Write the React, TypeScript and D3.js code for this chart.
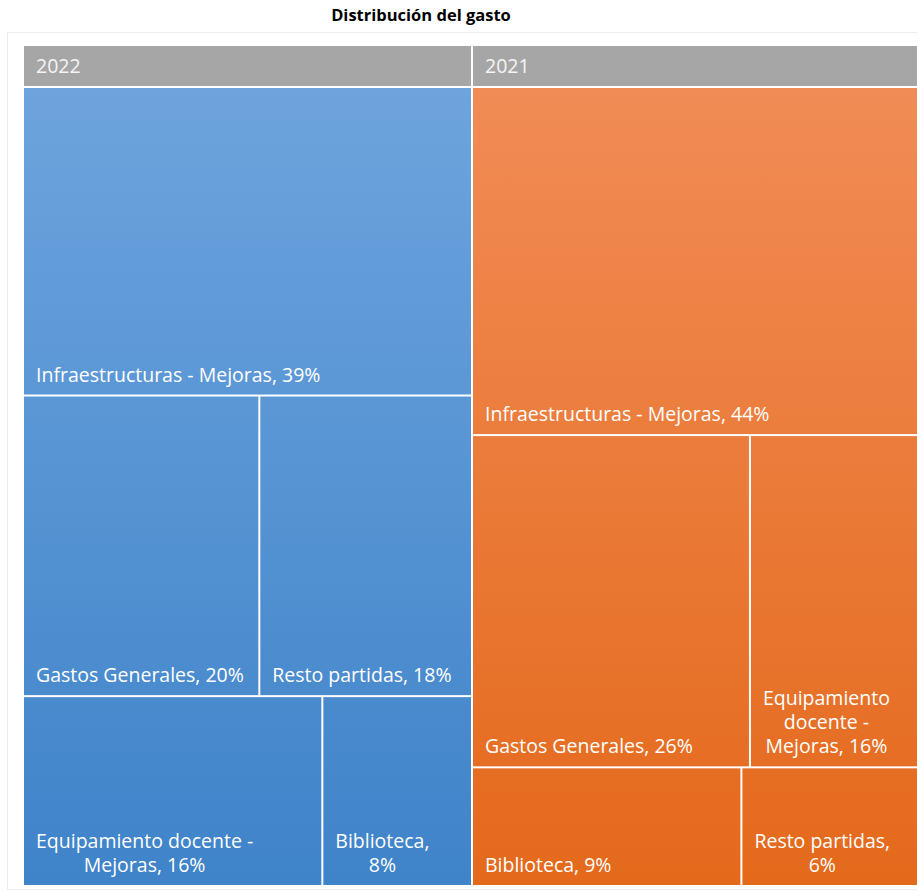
import React, { useMemo } from "react";
import * as d3 from "d3";

const title = "Distribución del gasto";
const years = ["2022", "2021"];

const categories2022 = ["Infraestructuras - Mejoras", "Gastos Generales", "Resto partidas", "Equipamiento docente - Mejoras", "Biblioteca"];
const values2022 = [39, 20, 18, 16, 8];
const labels2022 = [["Infraestructuras - Mejoras, 39%"], ["Gastos Generales, 20%"], ["Resto partidas, 18%"], ["Equipamiento docente -", "Mejoras, 16%"], ["Biblioteca,", "8%"]];

const categories2021 = ["Infraestructuras - Mejoras", "Gastos Generales", "Equipamiento docente - Mejoras", "Biblioteca", "Resto partidas"];
const values2021 = [44, 26, 16, 9, 6];
const labels2021 = [["Infraestructuras - Mejoras, 44%"], ["Gastos Generales, 26%"], ["Equipamiento", "docente -", "Mejoras, 16%"], ["Biblioteca, 9%"], ["Resto partidas,", "6%"]];

const W = 917;
const H = 892;
const FONT = "'Open Sans', 'Noto Sans', sans-serif";
const LABEL_SIZE = 19.5;

const gradients: Record<string, [string, string]> = {
  "2022": ["#6DA4DD", "#3F83C9"],
  "2021": ["#F18C56", "#E4691B"],
};

let canvasCtx: CanvasRenderingContext2D | null = null;
function measure(text: string, size: number) {
  if (!canvasCtx) {
    const c = document.createElement("canvas");
    canvasCtx = c.getContext("2d");
  }
  if (!canvasCtx) return text.length * size * 0.5;
  canvasCtx.font = `${size}px ${FONT}`;
  return canvasCtx.measureText(text).width;
}

export default function App() {
  const root = useMemo(() => {
    const data = {
      name: "root",
      children: [
        { name: years[0], children: categories2022.map((c, i) => ({ name: c, value: values2022[i], lines: labels2022[i] })) },
        { name: years[1], children: categories2021.map((c, i) => ({ name: c, value: values2021[i], lines: labels2021[i] })) },
      ],
    };
    const h = d3.hierarchy<any>(data).sum((d: any) => d.value || 0);
    const sq = d3.treemapSquarify.ratio(1);
    const tile = (node: any, x0: number, y0: number, x1: number, y1: number) => {
      if (node.depth === 0) d3.treemapDice(node, x0, y0, x1, y1);
      else sq(node, x0, y0, x1, y1);
    };
    d3.treemap<any>()
      .tile(tile as any)
      .size([920 - 24, 885 - 46])
      .paddingInner(2)
      .paddingTop((d: any) => (d.depth === 1 ? 42 : 0))(h);
    return h as d3.HierarchyRectangularNode<any>;
  }, []);

  const yearNodes = root.children || [];
  const ox = 24;
  const oy = 46;

  return (
    <svg width={W} height={H} style={{ position: "absolute", left: 0, top: 0, display: "block", background: "#fff" }}>
      <defs>
        {yearNodes.map((yn) => (
          <linearGradient key={yn.data.name} id={`grad-${yn.data.name}`} gradientUnits="userSpaceOnUse" x1={0} y1={yn.y0 + 42} x2={0} y2={yn.y1}>
            <stop offset="0%" stopColor={gradients[yn.data.name][0]} />
            <stop offset="100%" stopColor={gradients[yn.data.name][1]} />
          </linearGradient>
        ))}
      </defs>
      <rect x={7.5} y={32.5} width={W} height={857} fill="#fff" stroke="#ececec" strokeWidth={1} />
      <text x={421} y={21} textAnchor="middle" fontFamily={FONT} fontWeight={700} fontSize={16.5} fill="#000">
        {title}
      </text>
      <g transform={`translate(${ox},${oy})`}>
        {yearNodes.map((yn) => (
          <g key={yn.data.name}>
            <rect x={yn.x0} y={yn.y0} width={yn.x1 - yn.x0} height={40} fill="#A6A6A6" />
            <text x={yn.x0 + 12} y={yn.y0 + 27} fontFamily={FONT} fontSize={LABEL_SIZE} fill="#F5F5F5">
              {yn.data.name}
            </text>
          </g>
        ))}
        {root.leaves().map((leaf, i) => {
          const lines: string[] = leaf.data.lines;
          const maxW = Math.max(...lines.map((l) => measure(l, LABEL_SIZE)));
          const lh = 24;
          const lastY = leaf.y1 - 13;
          const yearName = leaf.parent ? leaf.parent.data.name : "";
          const multi = lines.length > 1;
          const cx = leaf.x0 + 12 + maxW / 2;
          return (
            <g key={i}>
              <rect x={leaf.x0} y={leaf.y0} width={leaf.x1 - leaf.x0} height={leaf.y1 - leaf.y0} fill={`url(#grad-${yearName})`} />
              <text
                textAnchor={multi ? "middle" : "start"}
                fontFamily={FONT}
                fontSize={LABEL_SIZE}
                fill="#FFFFFF"
              >
                {lines.map((l, j) => (
                  <tspan key={j} x={multi ? cx : leaf.x0 + 12} y={lastY - (lines.length - 1 - j) * lh}>
                    {l}
                  </tspan>
                ))}
              </text>
            </g>
          );
        })}
      </g>
    </svg>
  );
}
